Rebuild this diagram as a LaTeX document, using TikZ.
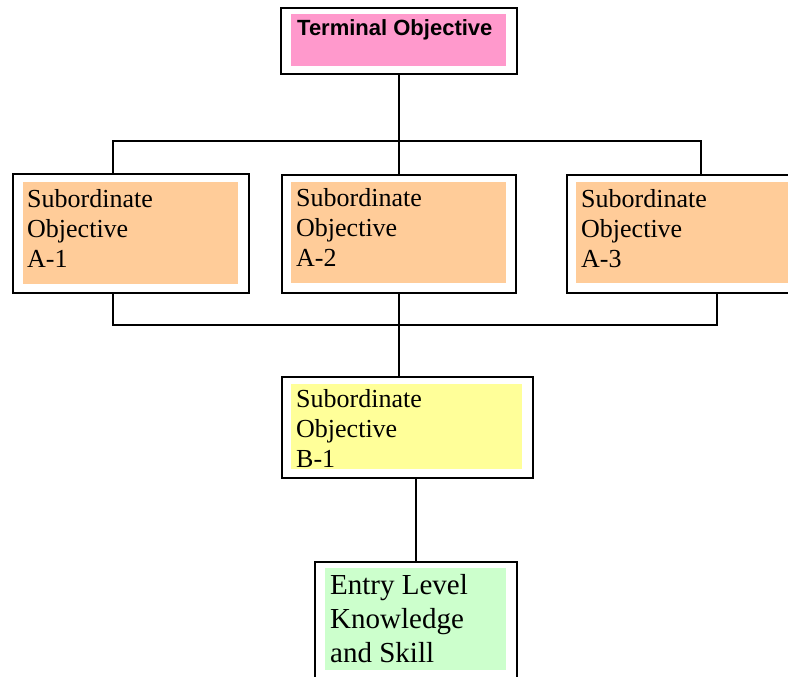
\documentclass[tikz,border=0pt]{standalone}
\usepackage{fontspec}
\usepackage{xcolor}
\setmainfont{Liberation Serif}
\setsansfont{Liberation Sans}

\definecolor{termpink}{RGB}{255,153,204}
\definecolor{subpeach}{RGB}{255,204,153}
\definecolor{subyellow}{RGB}{255,255,153}
\definecolor{entrygreen}{RGB}{204,255,204}

\begin{document}
\begin{tikzpicture}[x=1pt,y=1pt,yscale=-1,xscale=1,
  frame/.style={draw, fill=white, line width=1.8pt, anchor=north west, inner sep=0pt},
  pad/.style={anchor=north west, inner sep=0pt, draw=none},
  subtxt/.style={anchor=base west, align=left, inner sep=0pt, font=\fontsize{26}{30}\selectfont},
  wire/.style={line width=2pt}]
%set diagram to 788 by 677
\clip (0,0) rectangle (788,677);

%Shape: Rectangle [terminal]
\node [frame, minimum width=236, minimum height=66] (term) at (280,7) {};
\node [pad, fill=termpink, minimum width=215, minimum height=52] (termfill) at (291,14) {};
%Shape: Rectangle [A-1, A-2, A-3]
\node [frame, minimum width=236, minimum height=119] (subA1) at (12,173) {};
\node [pad, fill=subpeach, minimum width=215, minimum height=102] (subA1fill) at (23,182) {};
\node [frame, minimum width=234, minimum height=118] (subA2) at (281,174) {};
\node [pad, fill=subpeach, minimum width=215, minimum height=101] (subA2fill) at (291,182) {};
\node [frame, minimum width=235, minimum height=118] (subA3) at (566,174) {};
\node [pad, fill=subpeach, minimum width=215, minimum height=101] (subA3fill) at (576,182) {};
%Shape: Rectangle [B-1]
\node [frame, minimum width=251, minimum height=101] (subB1) at (281,376) {};
\node [pad, fill=subyellow, minimum width=231, minimum height=85] (subB1fill) at (291,384) {};
%Shape: Rectangle [entry]
\node [frame, minimum width=202, minimum height=130] (entry) at (314,561) {};
\node [pad, fill=entrygreen, minimum width=181, minimum height=102] (entryfill) at (325,568) {};

% Text Node
\node [anchor=base west, inner sep=0pt, font=\sffamily\bfseries\fontsize{22}{26}\selectfont] (termtxt) at (297,36) {Terminal Objective};
% Text Node
\node [subtxt] (subA1txt) at (27,267) {Subordinate\\Objective\\A-1};
% Text Node
\node [subtxt] (subA2txt) at (296,266) {Subordinate\\Objective\\A-2};
% Text Node
\node [subtxt] (subA3txt) at (581,267) {Subordinate\\Objective\\A-3};
% Text Node
\node [subtxt] (subB1txt) at (296,467) {Subordinate\\Objective\\B-1};
% Text Node
\node [subtxt, font=\fontsize{29}{34}\selectfont] (entrytxt) at (330,662) {Entry Level\\Knowledge\\and Skill};

%Straight Lines [top bus]
\coordinate (topL) at (113,141);
\coordinate (topR) at (701,141);
\draw [wire] (term.south) -- (term.south |- subA2.north);
\draw [wire] (subA1.north -| topL) -- (topL) -- (topR) -- (subA3.north -| topR);
%Straight Lines [bottom bus]
\coordinate (botL) at (113,325);
\coordinate (botR) at (717,325);
\draw [wire] (subA1.south -| botL) -- (botL) -- (botR) -- (subA3.south -| botR);
\draw [wire] (subA2.south) -- (subA2.south |- subB1.north);
%Straight Lines [to entry]
\draw [wire] (entry.north) -- (entry.north |- subB1.south);
\end{tikzpicture}
\end{document}
